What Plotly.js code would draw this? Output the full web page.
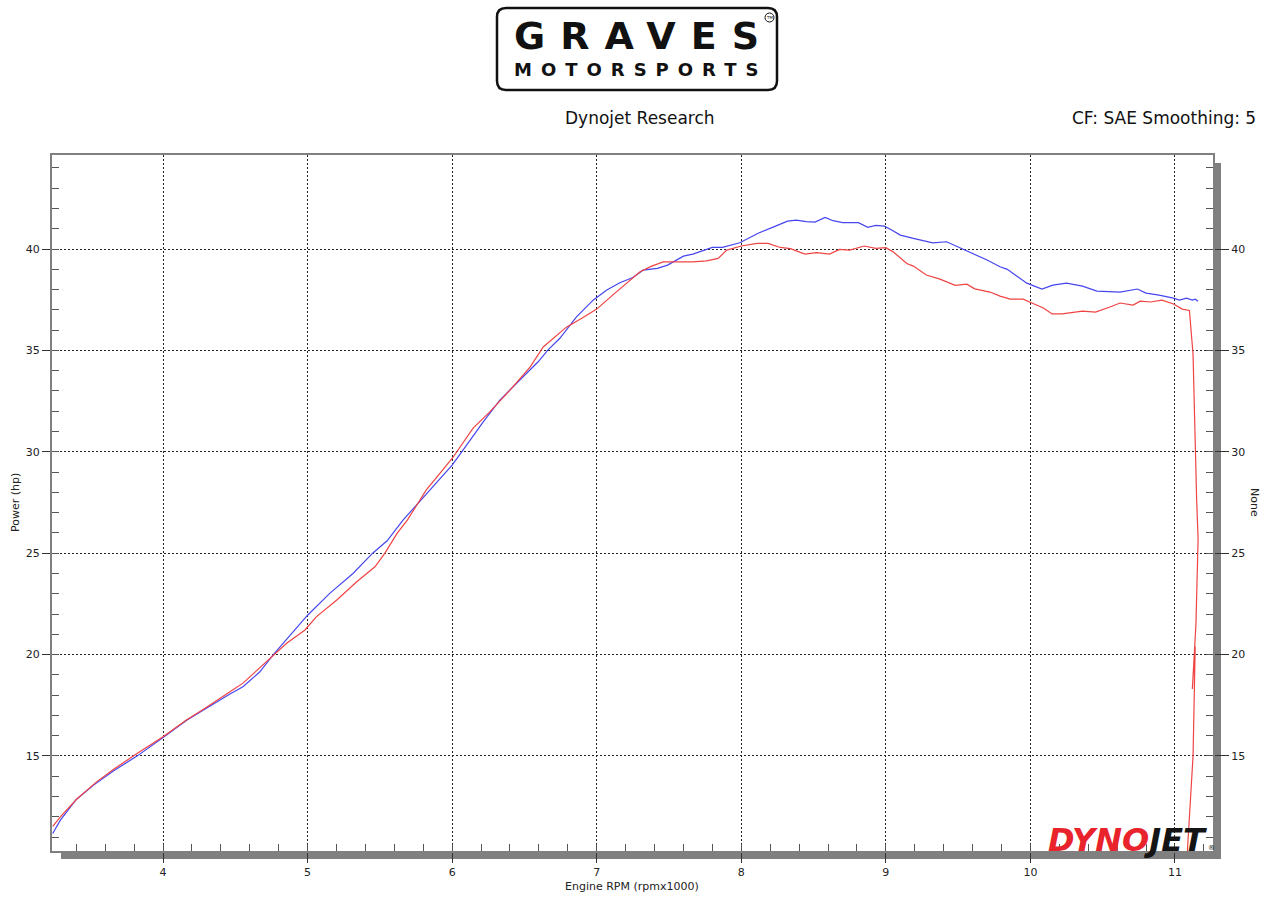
<!DOCTYPE html>
<html><head><meta charset="utf-8">
<script src="https://cdn.plot.ly/plotly-3.0.1.min.js"></script>
<style>html,body{margin:0;padding:0;background:#fff}#chart{width:1280px;height:918px}</style>
</head><body><div id="chart"></div>
<script>
// ---- data ----
const rpmBlue = [3.237,3.29,3.40,3.52,3.656,3.82,4.0,4.164,4.28,4.39,4.463,4.553,4.67,4.76,4.90,5.0,5.155,5.314,5.45,5.55,5.66,5.846,6.0,6.075,6.215,6.33,6.47,6.595,6.66,6.745,6.86,6.975,7.07,7.16,7.25,7.32,7.42,7.49,7.60,7.665,7.80,7.87,7.99,8.12,8.22,8.32,8.38,8.45,8.51,8.58,8.635,8.70,8.81,8.875,8.93,8.99,9.04,9.10,9.19,9.325,9.42,9.51,9.60,9.70,9.79,9.84,9.975,10.08,10.155,10.25,10.36,10.46,10.62,10.74,10.80,10.89,10.99,11.03,11.08,11.12,11.14,11.16];
const hpBlue  = [11.17,11.83,12.85,13.56,14.26,14.99,15.91,16.76,17.26,17.75,18.05,18.41,19.15,19.97,21.12,21.94,23.03,24.0,25.0,25.61,26.63,28.11,29.34,30.08,31.48,32.55,33.54,34.44,35.0,35.6,36.66,37.48,37.98,38.34,38.6,38.96,39.05,39.21,39.65,39.75,40.08,40.08,40.31,40.79,41.08,41.38,41.43,41.35,41.33,41.56,41.4,41.3,41.3,41.07,41.17,41.13,40.94,40.69,40.53,40.31,40.36,40.08,39.79,39.46,39.13,39.0,38.32,38.03,38.22,38.32,38.17,37.93,37.88,38.03,37.83,37.73,37.58,37.48,37.58,37.48,37.53,37.43];
const rpmRed = [3.237,3.29,3.40,3.54,3.656,3.82,4.0,4.164,4.28,4.39,4.463,4.553,4.69,4.76,4.855,4.98,5.06,5.20,5.34,5.466,5.535,5.62,5.69,5.82,6.0,6.145,6.26,6.40,6.54,6.63,6.70,6.79,6.90,7.0,7.11,7.21,7.30,7.38,7.46,7.53,7.665,7.76,7.84,7.90,8.0,8.11,8.185,8.27,8.34,8.44,8.52,8.61,8.68,8.75,8.85,8.93,9.0,9.05,9.145,9.19,9.28,9.37,9.48,9.56,9.615,9.72,9.79,9.86,9.95,10.01,10.09,10.15,10.22,10.36,10.45,10.55,10.62,10.71,10.76,10.83,10.91,10.99,11.05,11.10,11.125,11.15,11.16,11.145,11.12,11.14,11.125,11.085];
const hpRed  = [11.53,11.99,12.85,13.72,14.33,15.12,15.94,16.78,17.3,17.8,18.16,18.59,19.48,19.97,20.56,21.2,21.86,22.68,23.59,24.33,25.0,25.99,26.63,28.11,29.67,31.17,31.97,33.04,34.19,35.17,35.6,36.15,36.6,37.04,37.73,38.32,38.88,39.16,39.37,39.37,39.37,39.42,39.54,39.95,40.15,40.28,40.28,40.08,40.02,39.75,39.82,39.75,39.98,39.95,40.15,40.03,40.07,39.87,39.29,39.16,38.72,38.53,38.21,38.27,38.04,37.88,37.68,37.53,37.53,37.34,37.09,36.8,36.8,36.94,36.89,37.14,37.34,37.24,37.43,37.39,37.48,37.29,37.04,36.97,34.8,27.6,25.7,21.5,18.3,20.4,15.0,10.2];
const xTickVals = [4,5,6,7,8,9,10,11];
const xTickText = ['4','5','6','7','8','9','10','11'];
const yTickVals = [15,20,25,30,35,40];
const yTickText = ['15','20','25','30','35','40'];
const xRange = [3.232, 11.263];
const yRange = [10.31, 44.64];
const headerLeft = 'Dynojet Research';
const headerRight = 'CF: SAE Smoothing: 5';
const xTitle = 'Engine RPM (rpmx1000)';
const yTitle = 'Power (hp)';
const y2Title = 'None';
const logoTop = 'GRAVES';
const logoBottom = 'MOTORSPORTS';

// ---- geometry helpers ----
const W = 1280, H = 918, L = 52, R = 67, T = 155, B = 67;
const PW = W - L - R, PH = H - T - B;
const px = x => (x - L) / PW;
const py = y => (H - B - y) / PH;
function roundRect(x0, y0, x1, y1, r) {
  const p = (x, y) => px(x).toFixed(5) + ',' + py(y).toFixed(5);
  return 'M' + p(x0 + r, y0) + ' L' + p(x1 - r, y0) + ' Q' + p(x1, y0) + ' ' + p(x1, y0 + r) +
    ' L' + p(x1, y1 - r) + ' Q' + p(x1, y1) + ' ' + p(x1 - r, y1) +
    ' L' + p(x0 + r, y1) + ' Q' + p(x0, y1) + ' ' + p(x0, y1 - r) +
    ' L' + p(x0, y0 + r) + ' Q' + p(x0, y0) + ' ' + p(x0 + r, y0) + ' Z';
}
// letter-spaced word without trailing space after the last letter
function spaced(word, s) {
  return '<span style="letter-spacing:' + s + 'px">' + word.slice(0, -1) + '</span>' + word.slice(-1);
}

const FONT = 'DejaVu Sans, Verdana, sans-serif';
const traces = [
  {x: rpmBlue, y: hpBlue, type: 'scatter', mode: 'lines', line: {color: '#4646f0', width: 1.2}, hoverinfo: 'skip', yaxis: 'y'},
  {x: rpmRed, y: hpRed, type: 'scatter', mode: 'lines', line: {color: '#f04444', width: 1.2}, hoverinfo: 'skip', yaxis: 'y2'}
];

const axisCommon = {
  showline: true, linecolor: '#808080', linewidth: 2,
  ticks: 'outside', tickcolor: '#333', tickwidth: 1,
  showgrid: true, gridcolor: '#222', gridwidth: 1, griddash: '2px,2px',
  zeroline: false, tickfont: {family: FONT, size: 11, color: '#222'},
  fixedrange: true
};

const layout = {
  width: W, height: H,
  margin: {l: L, r: R, t: T, b: B, pad: 0},
  paper_bgcolor: '#fff', plot_bgcolor: '#fff',
  showlegend: false,
  xaxis: Object.assign({}, axisCommon, {
    range: xRange, tickmode: 'array', tickvals: xTickVals, ticktext: xTickText, ticklen: 10,
    mirror: true,
    minor: {ticks: 'inside', dtick: 0.2, tick0: 0, ticklen: 7, tickcolor: '#555', tickwidth: 1, showgrid: false}
  }),
  yaxis: Object.assign({}, axisCommon, {
    range: yRange, tickmode: 'array', tickvals: yTickVals, ticktext: yTickText, ticklen: 8,
    minor: {ticks: 'inside', dtick: 1, tick0: 0, ticklen: 7, tickcolor: '#555', tickwidth: 1, showgrid: false}
  }),
  yaxis2: Object.assign({}, axisCommon, {
    range: yRange, overlaying: 'y', side: 'right', showgrid: false,
    tickmode: 'array', tickvals: yTickVals, ticktext: yTickText, ticklen: 14,
    minor: {ticks: 'inside', dtick: 1, tick0: 0, ticklen: 7, tickcolor: '#555', tickwidth: 1, showgrid: false}
  }),
  shapes: [
    // drop shadow of the plot frame
    {type: 'rect', xref: 'paper', yref: 'paper', layer: 'below',
     x0: px(61), x1: px(1221), y0: py(859), y1: py(852), fillcolor: '#808080', line: {width: 0}},
    {type: 'rect', xref: 'paper', yref: 'paper', layer: 'below',
     x0: px(1214), x1: px(1221), y0: py(859), y1: py(163), fillcolor: '#808080', line: {width: 0}},
    // logo frame
    {type: 'path', xref: 'paper', yref: 'paper', path: roundRect(497, 8, 777, 90, 9),
     line: {color: '#111', width: 2.5}, fillcolor: 'rgba(0,0,0,0)'},
    {type: 'circle', xref: 'paper', yref: 'paper', x0: px(765), x1: px(774), y0: py(22), y1: py(13),
     line: {color: '#111', width: 1}}
  ],
  annotations: [
    {text: spaced(logoTop, 15),
     xref: 'paper', yref: 'paper', x: px(636), y: py(36), xanchor: 'center', yanchor: 'middle',
     showarrow: false, borderpad: 0, font: {family: FONT, size: 38, color: '#111', weight: 900}},
    {text: spaced(logoBottom, 9),
     xref: 'paper', yref: 'paper', x: px(636), y: py(70), xanchor: 'center', yanchor: 'middle',
     showarrow: false, borderpad: 0, font: {family: FONT, size: 18, color: '#111', weight: 900}},
    {text: 'TM', xref: 'paper', yref: 'paper', x: px(769.5), y: py(17.5), xanchor: 'center', yanchor: 'middle',
     showarrow: false, borderpad: 0, font: {family: FONT, size: 4, color: '#111'}},
    {text: headerLeft, xref: 'paper', yref: 'paper', x: px(640), y: py(118), xanchor: 'center', yanchor: 'middle',
     showarrow: false, font: {family: FONT, size: 17, color: '#111'}},
    {text: headerRight, xref: 'paper', yref: 'paper', x: px(1258), y: py(118), xanchor: 'right', yanchor: 'middle',
     showarrow: false, font: {family: FONT, size: 17, color: '#111'}},
    {text: xTitle, xref: 'paper', yref: 'paper', x: px(632), y: py(886), xanchor: 'center', yanchor: 'middle',
     showarrow: false, font: {family: FONT, size: 11, color: '#222'}},
    {text: yTitle, xref: 'paper', yref: 'paper', x: px(15), y: py(503), xanchor: 'center', yanchor: 'middle',
     textangle: -90, showarrow: false, font: {family: FONT, size: 11, color: '#222'}},
    {text: y2Title, xref: 'paper', yref: 'paper', x: px(1255), y: py(502), xanchor: 'center', yanchor: 'middle',
     textangle: 90, showarrow: false, font: {family: FONT, size: 11, color: '#222'}},
    {text: '<i><b><span style="color:#e8232b">DYNO</span>JET</b></i>', xref: 'paper', yref: 'paper',
     x: px(1209), y: py(840), xanchor: 'right', yanchor: 'middle', showarrow: false,
     font: {family: FONT, size: 32, color: '#141414', weight: 900}},
    {text: '®', xref: 'paper', yref: 'paper', x: px(1211), y: py(848), xanchor: 'center', yanchor: 'middle',
     showarrow: false, font: {family: FONT, size: 7, color: '#141414'}}
  ]
};

Plotly.newPlot('chart', traces, layout, {displayModeBar: false, staticPlot: true});
</script>
</body></html>
